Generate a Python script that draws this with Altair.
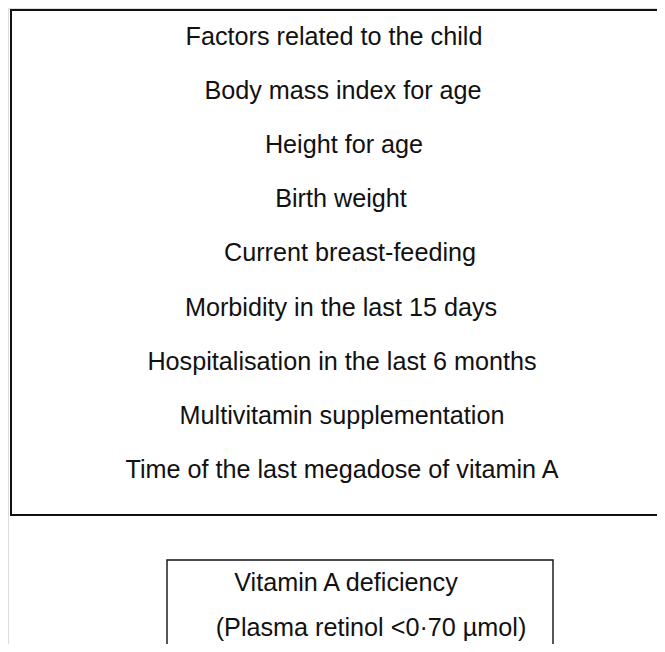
import altair as alt
import pandas as pd

# ---- content ----
factor_lines = [
    "Factors related to the child",
    "Body mass index for age",
    "Height for age",
    "Birth weight",
    "Current breast-feeding",
    "Morbidity in the last 15 days",
    "Hospitalisation in the last 6 months",
    "Multivitamin supplementation",
    "Time of the last megadose of vitamin A",
]
outcome_lines = [
    "Vitamin A deficiency",
    "(Plasma retinol <0·70 µmol)",
]

# ---- layout (page pixel units) ----
W, H = 649, 636
OFF = 8
top_box = dict(x=11, x2=675, y=10, y2=515)
bottom_box = dict(x=167, x2=553, y=560, y2=680)
top_first, top_step = 37, 54.1
bottom_first, bottom_step = 583, 45
top_cx = [334, 343, 344, 341, 350, 341, 342, 342, 342]
bottom_cx = [346, 371]

xs = alt.Scale(domain=[OFF, OFF + W], range=[0, W])
ys = alt.Scale(domain=[OFF, OFF + H], range=[0, H])

boxes = pd.DataFrame([
    dict(name="top", **top_box),
    dict(name="bottom", **bottom_box),
])

texts = pd.DataFrame(
    [dict(label=t, x=top_cx[i], y=top_first + i * top_step) for i, t in enumerate(factor_lines)]
    + [dict(label=t, x=bottom_cx[i], y=bottom_first + i * bottom_step) for i, t in enumerate(outcome_lines)]
)


def box(name, sw):
    return alt.Chart(boxes[boxes.name == name]).mark_rect(
        fill=None, fillOpacity=0, stroke="#111111", strokeWidth=sw, clip=True
    ).encode(
        x=alt.X("x:Q", scale=xs, axis=None),
        x2="x2:Q",
        y=alt.Y("y:Q", scale=ys, axis=None),
        y2="y2:Q",
    )


text = alt.Chart(texts).mark_text(
    font="Liberation Sans", fontSize=25.2, color="#111111",
    align="center", baseline="middle"
).encode(
    x=alt.X("x:Q", scale=xs, axis=None),
    y=alt.Y("y:Q", scale=ys, axis=None),
    text="label:N",
)

chart = alt.layer(box("top", 2.0), box("bottom", 1.4), text).properties(
    width=W, height=H, autosize=alt.AutoSizeParams(type="none"), padding=0
).configure_view(stroke=None).configure(background="white")

chart.save("out.html", embed_options={"renderer": "svg", "actions": False})
